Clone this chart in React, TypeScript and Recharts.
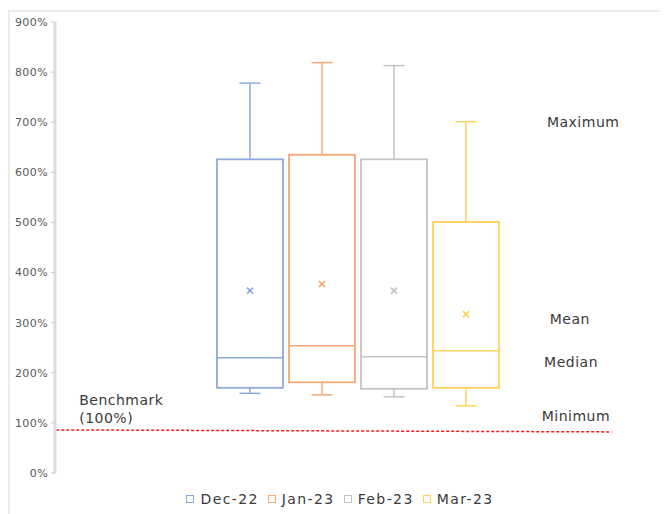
import React from 'react';
import { BarChart, Bar, XAxis, YAxis, Legend, ReferenceLine, ReferenceDot } from 'recharts';

const categories = ['Dec-22', 'Jan-23', 'Feb-23', 'Mar-23'];
const colors = ['#8eaadb', '#f4a974', '#c4c4c4', '#ffd35a'];
const minimums = [159, 156, 152, 134];
const q1s = [170, 181, 168, 170];
const medians = [230, 254, 232, 244];
const q3s = [626, 635, 626, 501];
const maximums = [778, 819, 813, 701];
const means = [364, 377, 364, 317];
const yTicks = [0, 100, 200, 300, 400, 500, 600, 700, 800, 900];

const benchmarkStart = { x: 0.2, y: 86 };
const benchmarkEnd = { x: 92, y: 82 };

const annotations = [
  { text: 'Maximum', x: 87.3, y: 700, anchor: 'middle' },
  { text: 'Mean', x: 85.1, y: 307, anchor: 'middle' },
  { text: 'Median', x: 85.3, y: 222, anchor: 'middle' },
  { text: 'Minimum', x: 86.1, y: 114, anchor: 'middle' },
  { text: 'Benchmark', x: 4.0, y: 146, anchor: 'start' },
  { text: '(100%)', x: 4.0, y: 110, anchor: 'start' },
];

const row: any = { cat: 'all', nx: 50 };
categories.forEach((c, i) => {
  row['s' + i] = [q1s[i], q3s[i]];
});
const data = [row];

const FONT = '"DejaVu Sans", sans-serif';

const makeBox = (i: number) => (props: any) => {
  const { x, y, width, height } = props;
  const top = Math.min(y, y + height);
  const bottom = Math.max(y, y + height);
  const ppu = (bottom - top) / (q3s[i] - q1s[i]);
  const yOf = (v: number) => top + (q3s[i] - v) * ppu;
  const cx = x + width / 2;
  const cap = 10.5;
  const c = colors[i];
  const my = yOf(means[i]);
  const m = 3;
  return (
    <g>
      <line x1={cx} x2={cx} y1={top} y2={yOf(maximums[i])} stroke={c} strokeWidth={1.5} />
      <line x1={cx - cap} x2={cx + cap} y1={yOf(maximums[i])} y2={yOf(maximums[i])} stroke={c} strokeWidth={1.5} />
      <line x1={cx} x2={cx} y1={bottom} y2={yOf(minimums[i])} stroke={c} strokeWidth={1.5} />
      <line x1={cx - cap} x2={cx + cap} y1={yOf(minimums[i])} y2={yOf(minimums[i])} stroke={c} strokeWidth={1.5} />
      <rect x={x} y={top} width={width} height={bottom - top} fill="none" stroke={c} strokeWidth={1.8} />
      <line x1={x} x2={x + width} y1={yOf(medians[i])} y2={yOf(medians[i])} stroke={c} strokeWidth={1.5} />
      <line x1={cx - m} x2={cx + m} y1={my - m} y2={my + m} stroke={c} strokeWidth={1.6} />
      <line x1={cx - m} x2={cx + m} y1={my + m} y2={my - m} stroke={c} strokeWidth={1.6} />
    </g>
  );
};

const renderAnno = (p: any, text: string, anchor: string) => {
  const vb = p.viewBox || {};
  const cx = vb.cx !== undefined ? vb.cx : vb.x + (vb.width || 0) / 2;
  const cy = vb.cy !== undefined ? vb.cy : vb.y + (vb.height || 0) / 2;
  return (
    <text x={cx} y={cy} textAnchor={anchor} dominantBaseline="central" fill="#3a3a3a" fontSize={14} fontFamily={FONT} style={{ letterSpacing: '0.5px' }}>
      {text}
    </text>
  );
};

const renderLegend = () => {
  return (
    <div style={{ height: 20, display: 'flex', justifyContent: 'center', alignItems: 'center', fontFamily: FONT, fontSize: 14, color: '#3a3a3a', letterSpacing: '1.4px', paddingLeft: 10 }}>
      {categories.map((c: string, i: number) => (
        <div key={c} style={{ display: 'flex', alignItems: 'center', marginRight: i < categories.length - 1 ? 9 : 0 }}>
          <span style={{ display: 'inline-block', width: 6, height: 6, border: '1.5px solid ' + colors[i], marginRight: 6 }} />
          <span>{c}</span>
        </div>
      ))}
    </div>
  );
};

export default function App() {
  return (
    <div style={{ marginTop: 2, width: 660, height: 504, borderLeft: '2px solid #ececec', borderTop: '2px solid #ececec' }}>
      <BarChart width={658} height={502} data={data} margin={{ top: 10, right: 8, left: 0, bottom: 21 }} barSize={66} barGap={6}>
        <XAxis dataKey="cat" hide />
        <XAxis xAxisId="n" dataKey="nx" type="number" domain={[0, 100]} allowDataOverflow hide />
        <YAxis
          domain={[0, 900]}
          ticks={yTicks}
          width={45}
          tickFormatter={(v: number) => v + '%'}
          axisLine={{ stroke: '#dcdcdc', strokeWidth: 3 }}
          tickLine={{ stroke: '#c8c8c8' }}
          tickSize={4}
          tickMargin={3}
          tick={{ fill: '#595959', fontSize: 11, fontFamily: FONT, style: { letterSpacing: '0.4px' } }}
          allowDataOverflow
        />
        {categories.map((c, i) => (
          <Bar key={c} dataKey={'s' + i} name={c} fill={colors[i]} shape={makeBox(i)} isAnimationActive={false} />
        ))}
        <ReferenceLine
          xAxisId="n"
          segment={[benchmarkStart, benchmarkEnd]}
          stroke="#ff1a1a"
          strokeWidth={1.5}
          strokeDasharray="3 2"
          ifOverflow="visible"
        />
        {annotations.map((a) => (
          <ReferenceDot
            key={a.text}
            xAxisId="n"
            x={a.x}
            y={a.y}
            r={0}
            fill="none"
            stroke="none"
            ifOverflow="visible"
            label={{ content: (p: any) => renderAnno(p, a.text, a.anchor) }}
          />
        ))}
        <Legend verticalAlign="bottom" content={renderLegend} wrapperStyle={{ bottom: 5 }} />
      </BarChart>
    </div>
  );
}
